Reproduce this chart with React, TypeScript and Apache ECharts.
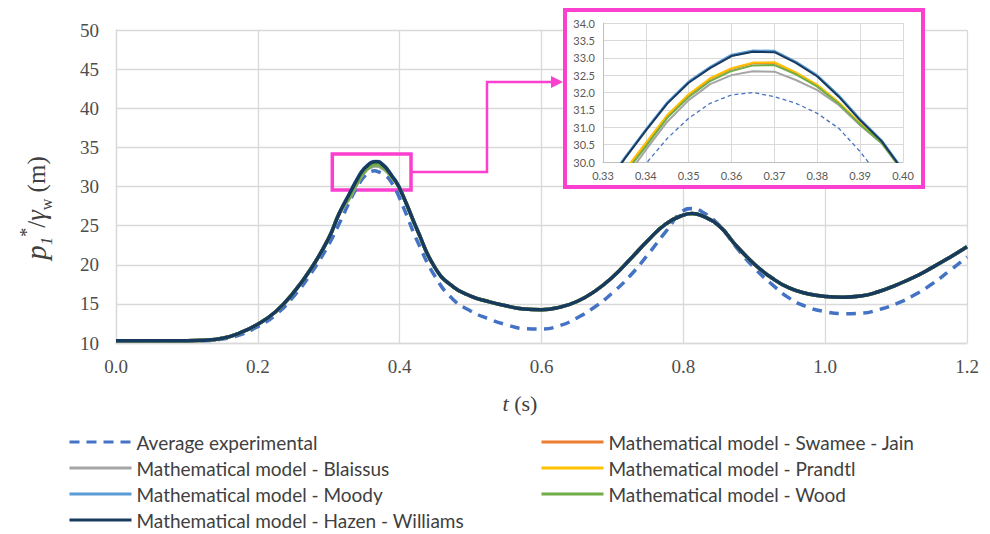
import React, { useEffect, useRef } from "react";
import * as echarts from "echarts";

// ---------- data ----------
const seriesNames = [
  "Average experimental",
  "Mathematical model - Swamee - Jain",
  "Mathematical model - Blaissus",
  "Mathematical model - Prandtl",
  "Mathematical model - Moody",
  "Mathematical model - Wood",
  "Mathematical model - Hazen - Williams",
];
const seriesColors = ["#4472C4", "#ED7D31", "#A5A5A5", "#FFC000", "#5B9BD5", "#70AD47", "#173A5E"];

const legendLeft = [seriesNames[0], seriesNames[2], seriesNames[4], seriesNames[6]];
const legendRight = [seriesNames[1], seriesNames[3], seriesNames[5]];

// coarse time grid (outside the zoomed peak window)
const tMain = [
  0, 0.025, 0.05, 0.075, 0.1, 0.125, 0.15, 0.175, 0.2, 0.225, 0.25, 0.275, 0.3, 0.315,
  0.41, 0.425,
  0.45, 0.475, 0.5, 0.525, 0.55, 0.575, 0.6, 0.625, 0.65, 0.675, 0.7, 0.725, 0.75, 0.775,
  0.8, 0.8125, 0.825, 0.85, 0.875, 0.9, 0.925, 0.95, 0.975, 1.0, 1.025, 1.05, 1.075, 1.1, 1.125,
  1.15, 1.175, 1.2,
];
const experimentalMain = [
  10.3, 10.3, 10.3, 10.3, 10.3, 10.3, 10.5, 11.05, 12.1, 13.6, 15.9, 18.9, 22.6, 25.3,
  26.3, 23.0,
  18.5, 15.6, 14.1, 13.1, 12.35, 11.85, 11.8, 12.2, 13.2, 14.6, 16.4, 18.6, 21.3, 24.2,
  26.9, 27.2, 26.85, 25.1, 22.2, 19.6, 17.5, 15.7, 14.6, 14.0, 13.75, 13.8, 14.25, 15.0, 16.1,
  17.5, 19.2, 21.0,
];
const modelMain = [
  10.3, 10.3, 10.3, 10.3, 10.3, 10.35, 10.6, 11.3, 12.4, 14.0, 16.4, 19.5, 23.4, 26.6,
  27.7, 24.4,
  19.6, 17.2, 16.0, 15.3, 14.75, 14.35, 14.25, 14.55, 15.3, 16.6, 18.4, 20.7, 23.1, 25.2,
  26.35, 26.55, 26.3, 25.0, 22.4, 20.1, 18.3, 17.0, 16.3, 15.95, 15.85, 16.0, 16.55, 17.4, 18.4,
  19.6, 20.9, 22.3,
];

// fine time grid around the first peak (shown in the inset)
const tPeak = [0.33, 0.335, 0.34, 0.345, 0.35, 0.355, 0.36, 0.365, 0.37, 0.375, 0.38, 0.385, 0.39, 0.395, 0.4];
const experimentalPeak = [28.2, 29.1, 29.95, 30.68, 31.26, 31.69, 31.93, 32.0, 31.88, 31.69, 31.4, 30.97, 30.3, 29.5, 28.5];
const swameeJainPeak = [28.83, 29.73, 30.53, 31.33, 31.93, 32.39, 32.68, 32.84, 32.85, 32.56, 32.2, 31.7, 31.1, 30.56, 29.74];
const blaissusPeak = [28.6, 29.5, 30.35, 31.16, 31.78, 32.24, 32.5, 32.61, 32.6, 32.36, 32.07, 31.64, 31.06, 30.54, 29.72];
const prandtlPeak = [28.85, 29.75, 30.55, 31.35, 31.95, 32.41, 32.7, 32.86, 32.87, 32.58, 32.22, 31.72, 31.11, 30.57, 29.75];
const moodyPeak = [29.24, 30.12, 30.94, 31.72, 32.32, 32.74, 33.09, 33.21, 33.2, 32.89, 32.5, 31.92, 31.24, 30.63, 29.78];
const woodPeak = [28.75, 29.65, 30.45, 31.27, 31.87, 32.33, 32.62, 32.78, 32.79, 32.52, 32.17, 31.68, 31.08, 30.55, 29.74];
const hazenPeak = [29.2, 30.08, 30.9, 31.68, 32.28, 32.7, 33.05, 33.17, 33.16, 32.85, 32.46, 31.88, 31.2, 30.6, 29.75];

const mainValues = [experimentalMain, modelMain, modelMain, modelMain, modelMain, modelMain, modelMain];
const peakValues = [experimentalPeak, swameeJainPeak, blaissusPeak, prandtlPeak, moodyPeak, woodPeak, hazenPeak];

const xTicksMain = { min: 0, max: 1.2, interval: 0.2 };
const yTicksMain = { min: 10, max: 50, interval: 5 };
const xTicksInset = { min: 0.33, max: 0.4, interval: 0.01 };
const yTicksInset = { min: 30, max: 34, interval: 0.5 };

const zoomBox = { t0: 0.305, t1: 0.416, p0: 29.55, p1: 34.15 };

// ---------- styles ----------
const MAGENTA = "#fb3fcf";
const GRID = "#d9d9d9";
const SERIF = "'Liberation Serif', 'Times New Roman', serif";
const SANS = "Lato, 'Open Sans', sans-serif";

function buildMain(i: number): number[][] {
  const pts: number[][] = [];
  tMain.forEach((t, k) => pts.push([t, mainValues[i][k]]));
  tPeak.forEach((t, k) => pts.push([t, peakValues[i][k]]));
  pts.sort((a, b) => a[0] - b[0]);
  return pts;
}

export default function App() {
  const ref = useRef<HTMLDivElement>(null);

  useEffect(() => {
    if (!ref.current) return;
    const chart = echarts.init(ref.current, undefined, { renderer: "svg" });

    const mainSeries = seriesNames.map((name, i) => ({
      type: "line",
      name,
      xAxisIndex: 0,
      yAxisIndex: 0,
      data: buildMain(i),
      symbol: "none",
      smooth: 0.5,
      color: seriesColors[i],
      lineStyle: {
        width: 3.5,
        color: seriesColors[i],
        type: i === 0 ? [10, 7] : "solid",
        cap: "butt",
      },
      z: 2,
      ...(i === seriesNames.length - 1
        ? {
            markArea: {
              silent: true,
              itemStyle: { color: "rgba(0,0,0,0)", borderColor: MAGENTA, borderWidth: 3.5 },
              data: [[{ xAxis: zoomBox.t0, yAxis: zoomBox.p1 }, { xAxis: zoomBox.t1, yAxis: zoomBox.p0 }]],
            },
          }
        : {}),
    }));

    const insetSeries = seriesNames.map((name, i) => ({
      type: "line",
      name,
      xAxisIndex: 1,
      yAxisIndex: 1,
      data: tPeak.map((t, k) => [t, peakValues[i][k]]),
      symbol: "none",
      smooth: false,
      color: seriesColors[i],
      lineStyle: {
        width: i === 0 ? 1.3 : 2,
        color: seriesColors[i],
        type: i === 0 ? [4, 3] : "solid",
      },
      z: 12,
    }));

    const legendCommon = {
      orient: "vertical",
      top: 432,
      padding: 0,
      itemWidth: 62,
      itemHeight: 14,
      itemGap: 6,
      selectedMode: false,
      itemStyle: { opacity: 0 },
      lineStyle: { width: 3 },
      textStyle: { fontFamily: SANS, fontSize: 19, color: "#404040", lineHeight: 20 },
    };

    chart.setOption({
      animation: false,
      backgroundColor: "#ffffff",
      grid: [
        { left: 116, right: 23, top: 30, bottom: 191 },
        { left: 603, right: 87, top: 23, bottom: 372, z: 11 },
      ],
      xAxis: [
        {
          type: "value",
          gridIndex: 0,
          ...xTicksMain,
          axisLine: { show: true, lineStyle: { color: GRID, width: 1.3 } },
          axisTick: { show: false },
          splitLine: { show: true, lineStyle: { color: GRID, width: 1.3 } },
          axisLabel: {
            margin: 14,
            fontFamily: SERIF,
            fontSize: 19,
            color: "#4d4d4d",
            formatter: (v: number) => v.toFixed(1),
          },
        },
        {
          type: "value",
          gridIndex: 1,
          ...xTicksInset,
          z: 11,
          axisLine: { show: true, lineStyle: { color: "#bfbfbf", width: 1 } },
          axisTick: { show: false },
          splitLine: { show: true, lineStyle: { color: GRID, width: 1 } },
          axisLabel: {
            margin: 8,
            fontFamily: SANS,
            fontSize: 11,
            color: "#595959",
            formatter: (v: number) => v.toFixed(2),
          },
        },
      ],
      yAxis: [
        {
          type: "value",
          gridIndex: 0,
          ...yTicksMain,
          axisLine: { show: true, lineStyle: { color: GRID, width: 1.3 } },
          axisTick: { show: false },
          splitLine: { show: true, lineStyle: { color: GRID, width: 1.3 } },
          axisLabel: {
            margin: 17,
            fontFamily: SERIF,
            fontSize: 19,
            color: "#4d4d4d",
          },
        },
        {
          type: "value",
          gridIndex: 1,
          ...yTicksInset,
          z: 11,
          axisLine: { show: true, lineStyle: { color: "#bfbfbf", width: 1 } },
          axisTick: { show: false },
          splitLine: { show: true, lineStyle: { color: GRID, width: 1 } },
          axisLabel: {
            margin: 8,
            fontFamily: SANS,
            fontSize: 11,
            color: "#595959",
            formatter: (v: number) => v.toFixed(1),
          },
        },
      ],
      legend: [
        { ...legendCommon, left: 68, data: legendLeft },
        { ...legendCommon, left: 540, data: legendRight },
      ],
      graphic: [
        {
          type: "rect",
          z: 10,
          shape: { x: 565, y: 10, width: 358, height: 177 },
          style: { fill: "#ffffff", stroke: MAGENTA, lineWidth: 4 },
        },
        {
          type: "polyline",
          z: 10,
          shape: { points: [[411, 172], [487, 172], [487, 82], [553, 82]] },
          style: { stroke: MAGENTA, lineWidth: 2.5, fill: null },
        },
        {
          type: "polygon",
          z: 10,
          shape: { points: [[551, 76], [563, 82], [551, 88]] },
          style: { fill: MAGENTA },
        },
        {
          type: "text",
          z: 10,
          x: 36,
          y: 208,
          rotation: Math.PI / 2,
          style: {
            text: "{p|p}{s|1}{u|*}{n|/}{g|γ}{w|w}{n| (m)}",
            align: "center",
            verticalAlign: "middle",
            fill: "#404040",
            rich: {
              p: { fontFamily: SERIF, fontStyle: "italic", fontSize: 29, lineHeight: 37, verticalAlign: "middle", fill: "#404040" },
              s: { fontFamily: SERIF, fontStyle: "italic", fontSize: 17, lineHeight: 17, verticalAlign: "bottom", fill: "#404040" },
              u: { fontFamily: SERIF, fontSize: 18, lineHeight: 18, verticalAlign: "top", fill: "#404040" },
              n: { fontFamily: SERIF, fontSize: 25, lineHeight: 37, verticalAlign: "middle", fill: "#404040" },
              g: { fontFamily: SERIF, fontStyle: "italic", fontSize: 27, lineHeight: 37, verticalAlign: "middle", fill: "#404040" },
              w: { fontFamily: SERIF, fontSize: 16, lineHeight: 16, verticalAlign: "bottom", fill: "#404040" },
            },
          },
        },
        {
          type: "text",
          z: 10,
          x: 520,
          y: 403,
          style: {
            text: "{t|t}{n| (s)}",
            align: "center",
            verticalAlign: "middle",
            rich: {
              t: { fontFamily: SERIF, fontStyle: "italic", fontSize: 22, fill: "#404040" },
              n: { fontFamily: SERIF, fontSize: 22, fill: "#404040" },
            },
          },
        },
      ],
      series: [...mainSeries, ...insetSeries],
    });

    return () => chart.dispose();
  }, []);

  return (
    <div
      ref={ref}
      style={{ position: "fixed", left: 0, top: 0, width: 990, height: 534, background: "#fff" }}
    />
  );
}
